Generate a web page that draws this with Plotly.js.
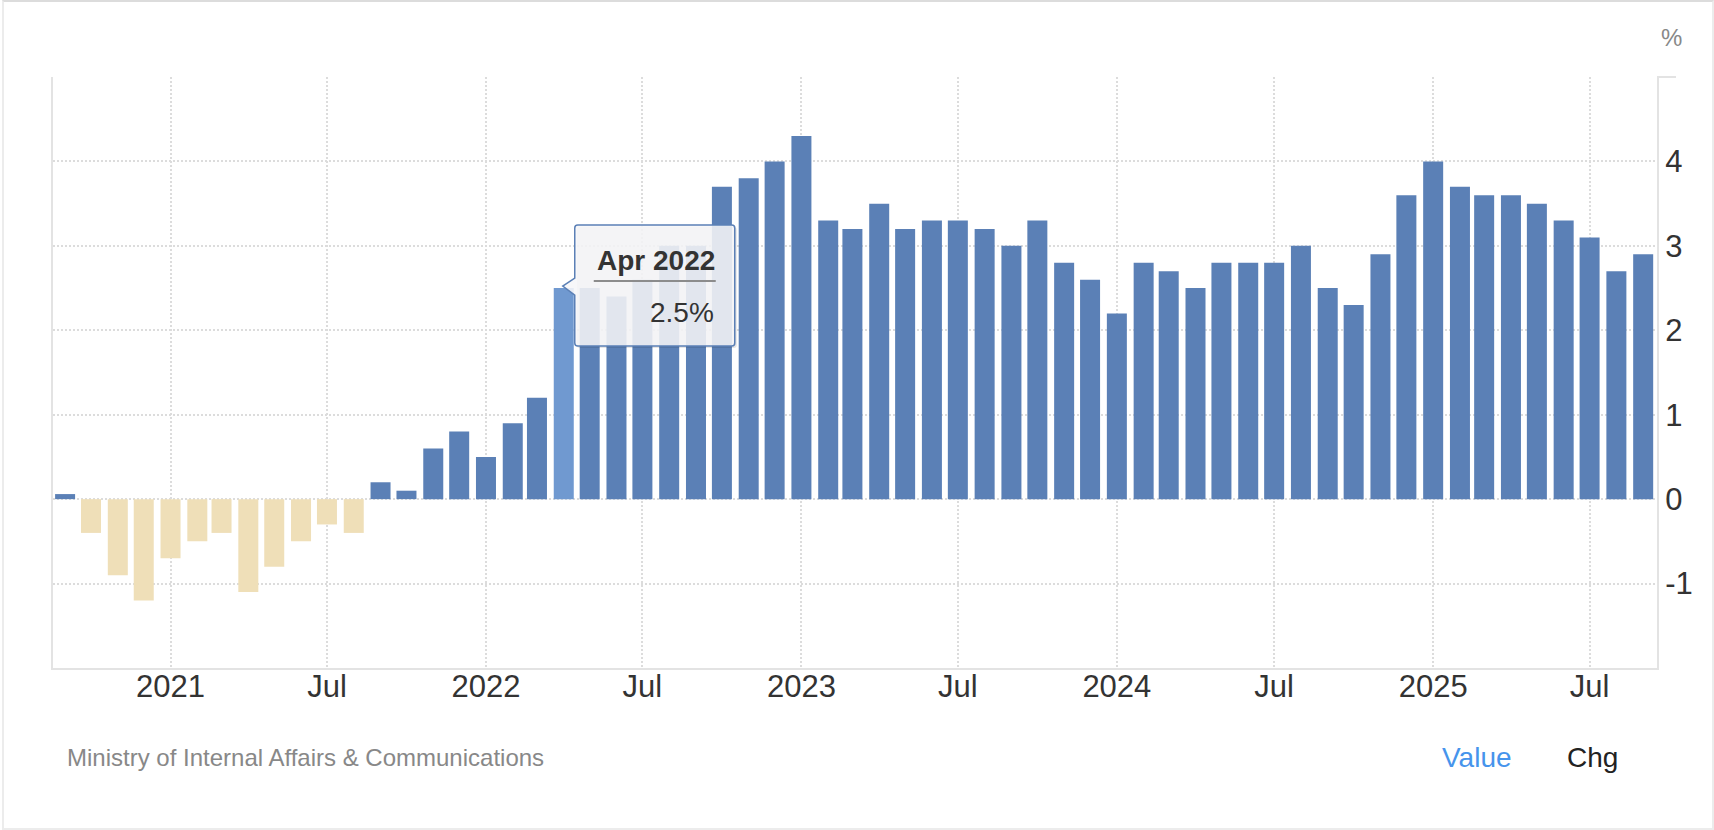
<!DOCTYPE html>
<html>
<head>
<meta charset="utf-8">
<script src="https://cdn.plot.ly/plotly-3.0.1.min.js"></script>
<style>
html,body{margin:0;padding:0;background:#fff;}
#wrap{position:relative;width:1714px;height:830px;overflow:hidden;background:#fff;}
#chart{width:1714px;height:830px;}
#frame{position:absolute;left:2px;top:0;width:1712px;height:830px;box-sizing:border-box;
  border-top:2px solid #dcdcdc;border-left:2px solid #ececec;border-right:2px solid #ececec;border-bottom:2px solid #ececec;pointer-events:none;}
</style>
</head>
<body>
<div id="wrap"><div id="chart"></div><div id="frame"></div></div>
<script>
// ---- data ----
const months = [
  '2020-09','2020-10','2020-11','2020-12',
  '2021-01','2021-02','2021-03','2021-04','2021-05','2021-06','2021-07','2021-08','2021-09','2021-10','2021-11','2021-12',
  '2022-01','2022-02','2022-03','2022-04','2022-05','2022-06','2022-07','2022-08','2022-09','2022-10','2022-11','2022-12',
  '2023-01','2023-02','2023-03','2023-04','2023-05','2023-06','2023-07','2023-08','2023-09','2023-10','2023-11','2023-12',
  '2024-01','2024-02','2024-03','2024-04','2024-05','2024-06','2024-07','2024-08','2024-09','2024-10','2024-11','2024-12',
  '2025-01','2025-02','2025-03','2025-04','2025-05','2025-06','2025-07','2025-08','2025-09'
];
const inflation = [
  0.06, -0.4, -0.9, -1.2,
  -0.7, -0.5, -0.4, -1.1, -0.8, -0.5, -0.3, -0.4, 0.2, 0.1, 0.6, 0.8,
  0.5, 0.9, 1.2, 2.5, 2.5, 2.4, 2.6, 3.0, 3.0, 3.7, 3.8, 4.0,
  4.3, 3.3, 3.2, 3.5, 3.2, 3.3, 3.3, 3.2, 3.0, 3.3, 2.8, 2.6,
  2.2, 2.8, 2.7, 2.5, 2.8, 2.8, 2.8, 3.0, 2.5, 2.3, 2.9, 3.6,
  4.0, 3.7, 3.6, 3.6, 3.5, 3.3, 3.1, 2.7, 2.9
];
const monthNames = ['Jan','Feb','Mar','Apr','May','Jun','Jul','Aug','Sep','Oct','Nov','Dec'];
const xTickVals = ['2021-01-01','2021-07-01','2022-01-01','2022-07-01','2023-01-01','2023-07-01','2024-01-01','2024-07-01','2025-01-01','2025-07-01'];
const xTickText = ['2021','Jul','2022','Jul','2023','Jul','2024','Jul','2025','Jul'];
const yTickVals = [-1, 0, 1, 2, 3, 4, 5];
const yTickText = ['-1','0','1','2','3','4',''];
const highlightMonth = '2022-04';
const sourceText = 'Ministry of Internal Affairs & Communications';
const unitText = '%';

// ---- styles ----
const FONT = 'Liberation Sans, Arial, Helvetica, sans-serif';
const POS = '#5b80b6', NEG = '#efdfb8', HI = '#7099d0';
const GRID = '#dcdcdc', AXIS = '#e3e3e3';

const hi = months.indexOf(highlightMonth);
const colors = inflation.map((v, i) => i === hi ? HI : (v < 0 ? NEG : POS));
const hiDate = months[hi];
const hiParts = hiDate.split('-');
const hiLabel = monthNames[parseInt(hiParts[1], 10) - 1] + ' ' + hiParts[0];
const hiValue = inflation[hi].toFixed(1) + '%';

const trace = {
  type: 'bar',
  x: months,
  y: inflation,
  width: 2.0e9,
  marker: {color: colors, line: {width: 0}},
  hoverinfo: 'none'
};

const tipPath = 'M 14 63 L 168 63 Q 171 63 171 60 L 171 -55 Q 171 -58 168 -58 L 14 -58 Q 11 -58 11 -55 L 11 -7 L -1 2 L 11 10 L 11 60 Q 11 63 14 63 Z';
const shadowPath = 'M 16 61 L 170 61 Q 173 61 173 58 L 173 -57 Q 173 -60 170 -60 L 16 -60 Q 13 -60 13 -57 L 13 58 Q 13 61 16 61 Z';

const layout = {
  width: 1714, height: 830,
  margin: {l: 53, r: 57, t: 77, b: 162, pad: 0},
  paper_bgcolor: '#ffffff', plot_bgcolor: '#ffffff',
  showlegend: false,
  font: {family: FONT, color: '#333'},
  xaxis: {
    type: 'date', range: ['2020-08-18', '2025-09-17'],
    tickmode: 'array', tickvals: xTickVals, ticktext: xTickText,
    showgrid: true, gridcolor: GRID, gridwidth: 2, griddash: '2px,2px',
    showline: true, linecolor: AXIS, linewidth: 2,
    ticks: '', ticklabelstandoff: -10, zeroline: false, fixedrange: true,
    tickfont: {family: FONT, size: 31, color: '#333'}
  },
  yaxis: {
    side: 'right', range: [-2, 5],
    tickmode: 'array', tickvals: yTickVals, ticktext: yTickText,
    showgrid: true, gridcolor: GRID, gridwidth: 2, griddash: '2px,2px',
    showline: true, linecolor: AXIS, linewidth: 2, mirror: true,
    ticks: '', zeroline: false, fixedrange: true,
    tickfont: {family: FONT, size: 31, color: '#333'}
  },
  shapes: [
    {type: 'line', xref: 'paper', yref: 'paper', y0: 1, y1: 1,
     xsizemode: 'pixel', xanchor: 1, x0: 0, x1: 19, line: {color: AXIS, width: 2}},
    {type: 'path', layer: 'above', xref: 'x', yref: 'y', xsizemode: 'pixel', ysizemode: 'pixel',
     xanchor: hiDate, yanchor: inflation[hi], path: shadowPath,
     fillcolor: 'rgba(0,0,0,0.10)', line: {width: 0}},
    {type: 'path', layer: 'above', xref: 'x', yref: 'y', xsizemode: 'pixel', ysizemode: 'pixel',
     xanchor: hiDate, yanchor: inflation[hi], path: tipPath,
     fillcolor: 'rgba(246,246,248,0.88)', line: {color: POS, width: 1.5}},
    {type: 'line', layer: 'above', xref: 'x', yref: 'y', xsizemode: 'pixel', ysizemode: 'pixel',
     xanchor: hiDate, yanchor: inflation[hi], x0: 30, x1: 152, y0: 7, y1: 7,
     line: {color: '#8c8c8c', width: 2}}
  ],
  annotations: [
    {xref: 'x', yref: 'y', x: hiDate, y: inflation[hi], xanchor: 'right', yanchor: 'middle',
     xshift: 153, yshift: 28, showarrow: false, text: '<b>' + hiLabel + '</b>',
     font: {family: FONT, size: 28, color: '#333'}},
    {xref: 'x', yref: 'y', x: hiDate, y: inflation[hi], xanchor: 'right', yanchor: 'middle',
     xshift: 152, yshift: -24, showarrow: false, text: hiValue,
     font: {family: FONT, size: 28, color: '#333'}},
    {xref: 'paper', yref: 'paper', x: 1, y: 1, xanchor: 'left', yanchor: 'middle',
     xshift: 2, yshift: 40, showarrow: false, text: unitText,
     font: {family: FONT, size: 24, color: '#888'}},
    {xref: 'paper', yref: 'paper', x: 0, y: 0, xanchor: 'left', yanchor: 'middle',
     xshift: 12, yshift: -89, showarrow: false, text: sourceText,
     font: {family: FONT, size: 24, color: '#888'}},
    {xref: 'paper', yref: 'paper', x: 0, y: 0, xanchor: 'left', yanchor: 'middle',
     xshift: 1387, yshift: -89, showarrow: false, text: 'Value',
     font: {family: FONT, size: 28, color: '#4694ec'}},
    {xref: 'paper', yref: 'paper', x: 0, y: 0, xanchor: 'left', yanchor: 'middle',
     xshift: 1512, yshift: -89, showarrow: false, text: 'Chg',
     font: {family: FONT, size: 28, color: '#222'}}
  ]
};

Plotly.newPlot('chart', [trace], layout, {staticPlot: true, displayModeBar: false});
</script>
</body>
</html>
